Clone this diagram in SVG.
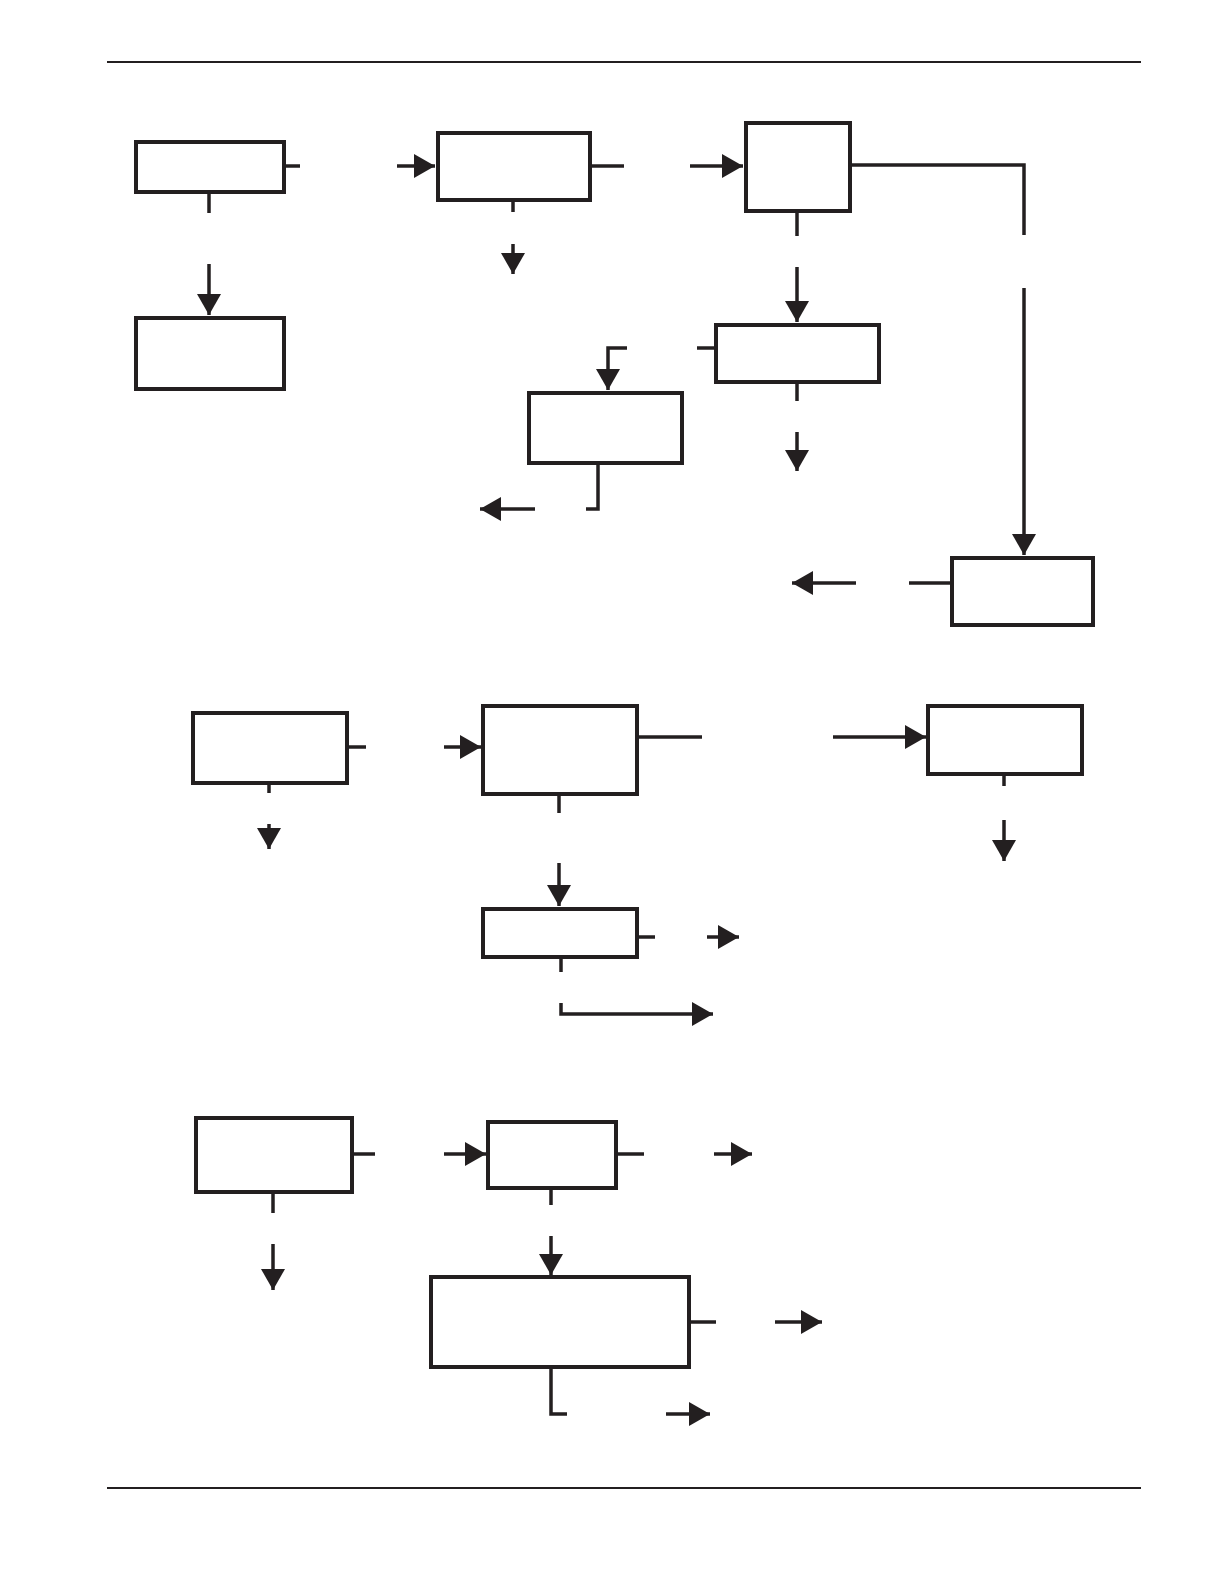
<svg xmlns="http://www.w3.org/2000/svg" width="1224" height="1584" viewBox="0 0 1224 1584">
<defs>
<style>
.box{fill:#fff;stroke:#231f20;stroke-width:4}
.ln{fill:none;stroke:#231f20;stroke-width:3.5}
.ar{fill:none;stroke:#231f20;stroke-width:3.5;marker-end:url(#ah)}
.rule{stroke:#231f20;stroke-width:2}
</style>
<marker id="ah" viewBox="0 0 21 24" refX="21" refY="12" markerWidth="21" markerHeight="24" markerUnits="userSpaceOnUse" orient="auto">
<path d="M0,0 L21,12 L0,24 Z" fill="#231f20"/>
</marker>
</defs>
<rect width="1224" height="1584" fill="#fff"/>
<line class="rule" x1="107" y1="62" x2="1141" y2="62"/>
<line class="rule" x1="107" y1="1488" x2="1141" y2="1488"/>
<g id="nodes">
<g id="n1"><rect class="box" x="136" y="142" width="148" height="50"/></g>
<g id="n2"><rect class="box" x="136" y="318" width="148" height="71"/></g>
<g id="n3"><rect class="box" x="438" y="133" width="152" height="67"/></g>
<g id="n4"><rect class="box" x="746" y="123" width="104" height="88"/></g>
<g id="n5"><rect class="box" x="716" y="325" width="163" height="57"/></g>
<g id="n6"><rect class="box" x="529" y="393" width="153" height="70"/></g>
<g id="n7"><rect class="box" x="952" y="558" width="141" height="67"/></g>
<g id="n8"><rect class="box" x="193" y="713" width="154" height="70"/></g>
<g id="n9"><rect class="box" x="483" y="706" width="154" height="88"/></g>
<g id="n10"><rect class="box" x="928" y="706" width="154" height="68"/></g>
<g id="n11"><rect class="box" x="483" y="909" width="154" height="48"/></g>
<g id="n12"><rect class="box" x="196" y="1118" width="156" height="74"/></g>
<g id="n13"><rect class="box" x="488" y="1122" width="128" height="66"/></g>
<g id="n14"><rect class="box" x="431" y="1277" width="258" height="90"/></g>
</g>
<g id="connectors">
<path class="ln" d="M285,166 H300"/>
<path class="ln" d="M209,192 V213"/>
<path class="ar" d="M209,264 V315"/>
<path class="ar" d="M397,166 H435"/>
<path class="ln" d="M590,166 H624"/>
<path class="ln" d="M513,200 V212"/>
<path class="ar" d="M513,244 V274"/>
<path class="ar" d="M690,166 H743"/>
<path class="ln" d="M850,165 H1024 V235"/>
<path class="ar" d="M1024,288 V555"/>
<path class="ln" d="M797,211 V236"/>
<path class="ar" d="M797,267 V322"/>
<path class="ln" d="M697,348 H714"/>
<path class="ln" d="M797,382 V401"/>
<path class="ar" d="M797,432 V471"/>
<path class="ar" d="M627,348 H608 V390"/>
<path class="ln" d="M598,463 V509 H586"/>
<path class="ar" d="M535,509 H480"/>
<path class="ln" d="M909,583 H950"/>
<path class="ar" d="M856,583 H792"/>
<path class="ln" d="M347,747 H366"/>
<path class="ln" d="M269,783 V793"/>
<path class="ar" d="M269,824 V849"/>
<path class="ar" d="M444,747 H481"/>
<path class="ln" d="M637,737 H702"/>
<path class="ar" d="M833,737 H926"/>
<path class="ln" d="M1004,774 V786"/>
<path class="ar" d="M1004,820 V861"/>
<path class="ln" d="M559,794 V813"/>
<path class="ar" d="M559,863 V906"/>
<path class="ln" d="M637,937 H655"/>
<path class="ar" d="M707,937 H739"/>
<path class="ln" d="M561,957 V972"/>
<path class="ar" d="M561,1003 V1014 H713"/>
<path class="ln" d="M352,1154 H375"/>
<path class="ln" d="M273,1192 V1213"/>
<path class="ar" d="M273,1244 V1290"/>
<path class="ar" d="M444,1154 H486"/>
<path class="ln" d="M616,1154 H644"/>
<path class="ar" d="M714,1154 H752"/>
<path class="ln" d="M551,1188 V1205"/>
<path class="ar" d="M551,1236 V1275"/>
<path class="ln" d="M689,1322 H716"/>
<path class="ar" d="M775,1322 H822"/>
<path class="ln" d="M551,1367 V1414 H567"/>
<path class="ar" d="M666,1414 H710"/>
</g>
</svg>
